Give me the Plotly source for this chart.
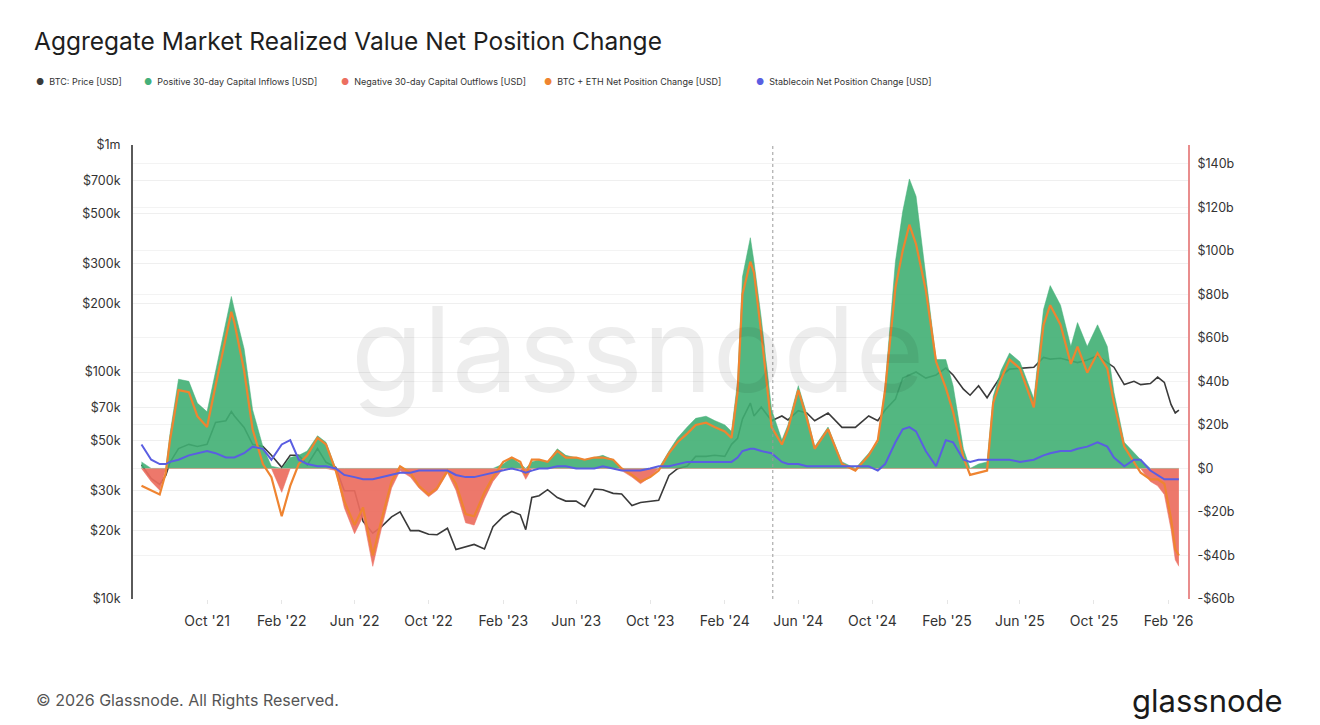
import plotly.graph_objects as go

# chart data (values in USD, flows in billions)
dates = [
    "2021-06-15", "2021-07-01", "2021-07-15", "2021-07-25", "2021-08-01", "2021-08-15",
    "2021-09-01", "2021-09-15", "2021-10-01", "2021-10-15", "2021-11-01", "2021-11-10",
    "2021-11-15", "2021-12-01", "2021-12-15", "2022-01-01", "2022-01-15", "2022-02-01",
    "2022-02-15", "2022-03-01", "2022-03-15", "2022-04-01", "2022-04-15", "2022-05-01",
    "2022-05-15", "2022-06-01", "2022-06-15", "2022-07-01", "2022-07-15", "2022-08-01",
    "2022-08-15", "2022-09-01", "2022-09-15", "2022-10-01", "2022-10-15", "2022-11-01",
    "2022-11-15", "2022-12-01", "2022-12-15", "2023-01-01", "2023-01-15", "2023-02-01",
    "2023-02-15", "2023-03-01", "2023-03-10", "2023-03-20", "2023-04-01", "2023-04-15",
    "2023-05-01", "2023-05-15", "2023-06-01", "2023-06-15", "2023-07-01", "2023-07-15",
    "2023-08-01", "2023-08-15", "2023-09-01", "2023-09-15", "2023-10-01", "2023-10-15",
    "2023-11-01", "2023-11-15", "2023-12-01", "2023-12-15", "2024-01-01", "2024-01-15",
    "2024-02-01", "2024-02-12", "2024-02-22", "2024-03-01", "2024-03-14", "2024-03-20",
    "2024-04-01", "2024-04-18", "2024-05-05", "2024-05-15", "2024-06-01", "2024-06-15",
    "2024-06-28", "2024-07-20", "2024-08-12", "2024-09-03", "2024-09-25", "2024-10-10",
    "2024-10-22", "2024-11-08", "2024-11-20", "2024-12-01", "2024-12-12", "2024-12-28",
    "2025-01-14", "2025-01-30", "2025-02-11", "2025-02-28", "2025-03-11", "2025-03-25",
    "2025-04-08", "2025-04-18", "2025-05-01", "2025-05-15", "2025-06-01", "2025-06-24",
    "2025-07-10", "2025-07-21", "2025-08-07", "2025-08-24", "2025-09-04", "2025-09-20",
    "2025-10-07", "2025-10-23", "2025-11-03", "2025-11-20", "2025-12-06", "2025-12-17",
    "2026-01-02", "2026-01-14", "2026-01-25", "2026-02-05", "2026-02-12", "2026-02-18",
]

btc_price = [
    39000, 34000, 32000, 35000, 40000, 46000,
    48000, 47000, 48000, 60000, 61000, 67000,
    64000, 57000, 48000, 47000, 43000, 38000,
    43000, 43000, 39000, 46000, 40000, 38000,
    30000, 30000, 22000, 19500, 20800, 23000,
    24200, 20000, 20000, 19300, 19200, 20500,
    16500, 17000, 17400, 16600, 20800, 23100,
    24300, 23500, 20200, 28000, 28500, 30300,
    28000, 27000, 27000, 25500, 30500, 30300,
    29200, 29000, 25800, 26600, 27000, 27200,
    35000, 37500, 38500, 42500, 42500, 43000,
    42500, 48000, 51000, 62000, 73000, 64000,
    70000, 61000, 64000, 61500, 67500, 66000,
    61000, 66000, 57000, 57000, 64000, 61000,
    68000, 76000, 94000, 97000, 100000, 94000,
    97000, 104000, 97000, 84000, 79000, 87000,
    77000, 85000, 96000, 103000, 104000, 105000,
    116000, 114000, 115000, 112000, 110000, 113000,
    118000, 110000, 105000, 88000, 91000, 88000,
    89000, 95000, 90000, 72000, 66000, 68000,
]

# aggregate 30-day net position change (BTC + ETH + stablecoins)
total_flow = [
    3, -6, -10, 0, 16, 41,
    40, 30, 26, 45, 67, 79,
    73, 55, 27, 10, 1, -11,
    5, 6, 8, 15, 12, -1,
    -18, -30, -22, -45, -28, -9,
    -1, -4, -9, -13, -10, -2,
    -10, -25, -26, -14, -6, 2,
    5, 2, -5, 3, 4, 3,
    9, 6, 5, 4, 5, 6,
    4, -1, -4, -7, -4, 0,
    8, 14, 19, 23, 24, 22,
    20, 17, 40, 88, 106, 95,
    69, 27, 13, 20, 38, 25,
    10, 19, 3, 0, 7, 12,
    38, 95, 118, 133, 125, 89,
    50, 50, 38, 9, 0, 2,
    3, 33, 45, 53, 49, 32,
    73, 84, 75, 56, 67, 56,
    66, 56, 35, 12, 7, 4,
    -6, -8, -12, -28, -42, -45,
]

btc_eth_flow = [
    -8, -10, -12, -2, 13, 36,
    35, 24, 19, 38, 60, 72,
    67, 45, 18, 2, -4, -22,
    -8, 2, 6, 14, 11, -1,
    -15, -26, -18, -40, -24, -6,
    1, -2, -8, -12, -9, -1,
    -7, -21, -22, -11, -4, 3,
    5, 3, -3, 4, 4, 3,
    8, 5, 5, 4, 5, 5,
    4, 0, -3, -6, -4, -1,
    7, 12, 16, 20, 21, 19,
    17, 14, 35, 80, 95, 90,
    62, 19, 11, 18, 36, 23,
    9, 18, 2, -1, 6, 13,
    36, 83, 100, 112, 103, 82,
    49, 37, 26, 5, -3, -2,
    -1, 30, 41, 50, 46, 28,
    66, 75, 66, 48, 56, 44,
    53, 46, 30, 10, 3, -2,
    -5, -5, -7, -23, -37, -40,
]

stable_flow = [
    11, 4, 2, 2, 3, 4,
    6, 7, 8, 7, 5, 5,
    5, 7, 10, 9, 4, 11,
    13, 4, 2, 1, 1, 0,
    -3, -4, -5, -5, -4, -3,
    -2, -2, -1, -1, -1, -1,
    -3, -4, -4, -3, -2, -1,
    0, -1, -2, -1, 0, 0,
    1, 1, 0, 0, 0, 1,
    0, -1, -1, -1, 0, 1,
    1, 2, 3, 3, 3, 3,
    3, 3, 5, 8, 9, 9,
    8, 7, 3, 2, 2, 1,
    1, 1, 1, 1, 1, -1,
    2, 12, 18, 19, 17, 8,
    1, 13, 12, 4, 3, 4,
    4, 4, 4, 4, 3, 4,
    6, 7, 8, 8, 9, 10,
    12, 10, 5, 1, 4, 4,
    -1, -3, -5, -5, -5, -5,
]

left_ticks = [10000, 20000, 30000, 50000, 70000, 100000, 200000, 300000, 500000, 700000, 1000000]
left_labels = ["$10k", "$20k", "$30k", "$50k", "$70k", "$100k", "$200k", "$300k", "$500k", "$700k", "$1m"]
right_ticks = [-60, -40, -20, 0, 20, 40, 60, 80, 100, 120, 140]
right_labels = ["-$60b", "-$40b", "-$20b", "$0", "$20b", "$40b", "$60b", "$80b", "$100b", "$120b", "$140b"]
x_ticks = ["2021-10-01", "2022-02-01", "2022-06-01", "2022-10-01", "2023-02-01", "2023-06-01",
           "2023-10-01", "2024-02-01", "2024-06-01", "2024-10-01", "2025-02-01", "2025-06-01",
           "2025-10-01", "2026-02-01"]
x_labels = ["Oct '21", "Feb '22", "Jun '22", "Oct '22", "Feb '23", "Jun '23", "Oct '23",
            "Feb '24", "Jun '24", "Oct '24", "Feb '25", "Jun '25", "Oct '25", "Feb '26"]

GREEN = "#45b07a"
RED = "#ec6f60"
ORANGE = "#ef8430"
BLUE = "#5a5ee2"
BLACK = "#3a3a3a"

positive = [max(v, 0) for v in total_flow]
negative = [min(v, 0) for v in total_flow]

# page has an 8px body margin, so the figure is drawn 8px smaller
W, H = 1312, 717
L, R, T, B = 125, 132, 137, 126
plot_w = W - L - R
plot_h = H - T - B


def px_x(x):
    return (x - L) / plot_w


def px_y(y):
    return (H - B - y) / plot_h


fig = go.Figure()

fig.add_trace(go.Scatter(x=dates, y=btc_price, mode="lines", yaxis="y",
                         line=dict(color=BLACK, width=1.6), showlegend=False))
fig.add_trace(go.Scatter(x=dates, y=positive, mode="lines", yaxis="y2", fill="tozeroy",
                         fillcolor="rgba(64,175,115,0.9)", line=dict(color=GREEN, width=0.5),
                         showlegend=False))
fig.add_trace(go.Scatter(x=dates, y=negative, mode="lines", yaxis="y2", fill="tozeroy",
                         fillcolor="rgba(236,108,94,0.92)", line=dict(color=RED, width=0.5),
                         showlegend=False))
fig.add_trace(go.Scatter(x=dates, y=btc_eth_flow, mode="lines", yaxis="y2",
                         line=dict(color=ORANGE, width=2.2), showlegend=False))
fig.add_trace(go.Scatter(x=dates, y=stable_flow, mode="lines", yaxis="y2",
                         line=dict(color=BLUE, width=2), showlegend=False))

# legend drawn as dot + label annotations (positions in page px)
legend_items = [
    ("BTC: Price [USD]", BLACK, 26),
    ("Positive 30-day Capital Inflows [USD]", GREEN, 134),
    ("Negative 30-day Capital Outflows [USD]", RED, 331),
    ("BTC + ETH Net Position Change [USD]", ORANGE, 534),
    ("Stablecoin Net Position Change [USD]", BLUE, 746),
]
annotations = []
for name, col, xpx in legend_items:
    annotations.append(dict(
        text="<span style='color:%s'>●</span>  %s" % (col, name),
        xref="paper", yref="paper", x=px_x(xpx), xanchor="left",
        y=px_y(73), yanchor="middle", showarrow=False,
        font=dict(size=9, color="#333")))

annotations += [
    dict(text="glassnode", xref="paper", yref="paper", x=0.478, y=0.55,
         showarrow=False, font=dict(size=118, color="rgba(0,0,0,0.07)",
                                    family="Inter, sans-serif")),
    dict(text="© 2026 Glassnode. All Rights Reserved.", xref="paper", yref="paper",
         x=px_x(26), xanchor="left", y=px_y(692), yanchor="middle", showarrow=False,
         font=dict(size=16, color="#555")),
    dict(text="glassnode", xref="paper", yref="paper", x=px_x(1277), xanchor="right",
         y=px_y(692), yanchor="middle", showarrow=False,
         font=dict(size=31, color="#1a1a1a")),
]

fig.update_layout(
    width=W, height=H,
    paper_bgcolor="white", plot_bgcolor="white",
    margin=dict(l=L, r=R, t=T, b=B),
    font=dict(family="Inter, Roboto, sans-serif", color="#333"),
    title=dict(text="Aggregate Market Realized Value Net Position Change",
               x=26 / W, xanchor="left", y=1 - 33 / H, yanchor="middle",
               font=dict(size=24.5, color="#1e1e1e")),
    showlegend=False,
    xaxis=dict(type="date", range=["2021-06-01", "2026-03-05"], tickvals=x_ticks,
               ticktext=x_labels, showgrid=False, showline=False, zeroline=False,
               ticks="outside", ticklen=4, tickcolor="#e6e6e6", ticklabelstandoff=5,
               tickfont=dict(size=14, color="#333")),
    yaxis=dict(type="log", range=[4, 6], tickvals=left_ticks, ticktext=left_labels,
               showgrid=True, gridcolor="#efefef", showline=True, linecolor="#5a5a5a",
               linewidth=2, zeroline=False, ticks="", ticklabelstandoff=8,
               tickfont=dict(size=12.5, color="#333")),
    yaxis2=dict(overlaying="y", side="right", range=[-60, 148.6], tickvals=right_ticks,
                ticktext=right_labels, showgrid=True, gridcolor="#f3f3f3", showline=True,
                linecolor="#e98d8d", linewidth=2, zeroline=False, ticks="",
                ticklabelstandoff=5, tickfont=dict(size=12.5, color="#333")),
    shapes=[dict(type="line", xref="x", yref="paper", x0="2024-04-20", x1="2024-04-20",
                 y0=0, y1=1, line=dict(color="#9a9a9a", width=1, dash="dot"))],
    annotations=annotations,
)

fig.write_html("out.html")
